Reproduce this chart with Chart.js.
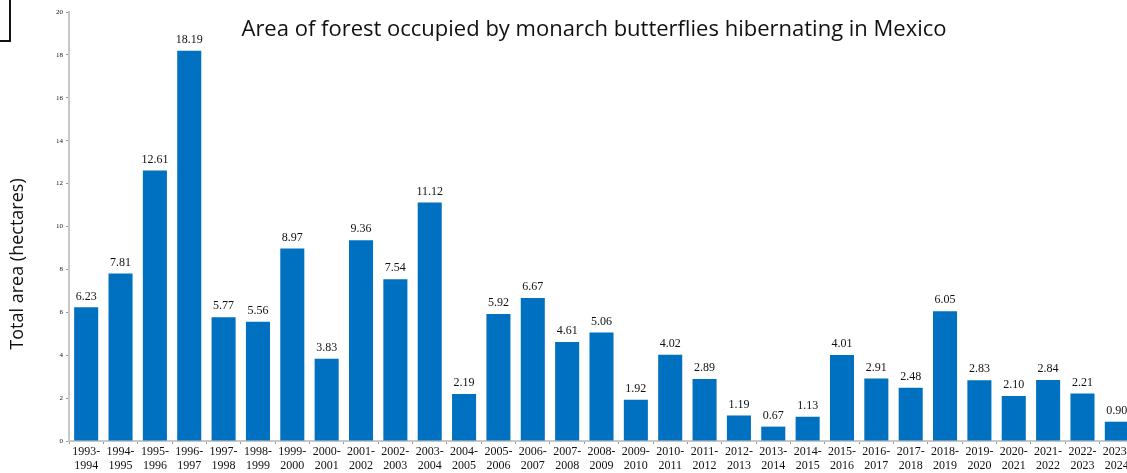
<!DOCTYPE html>
<html>
<head>
<meta charset="utf-8">
<script src="https://cdn.jsdelivr.net/npm/chart.js@4/dist/chart.umd.min.js"></script>
<style>
    html, body { margin: 0; padding: 0; background: #fff; overflow: hidden; }
    body { width: 1127px; height: 473px; position: relative; }
    #wrap { position: absolute; left: 0; top: 0; width: 1134px; height: 473px; }
    #corner { position: absolute; left: -2px; top: -2px; width: 9px; height: 40px; border: 2px solid #111; }
</style>
</head>
<body>
<div id="wrap"><canvas id="chart"></canvas></div>
<div id="corner"></div>
<script>
// Winter seasons
const seasons = [
    '1993-1994', '1994-1995', '1995-1996', '1996-1997', '1997-1998', '1998-1999',
    '1999-2000', '2000-2001', '2001-2002', '2002-2003', '2003-2004', '2004-2005',
    '2005-2006', '2006-2007', '2007-2008', '2008-2009', '2009-2010', '2010-2011',
    '2011-2012', '2012-2013', '2013-2014', '2014-2015', '2015-2016', '2016-2017',
    '2017-2018', '2018-2019', '2019-2020', '2020-2021', '2021-2022', '2022-2023',
    '2023-2024'
];

// Total area in hectares
const hectares = [
    6.23, 7.81, 12.61, 18.19, 5.77, 5.56, 8.97, 3.83, 9.36, 7.54, 11.12, 2.19,
    5.92, 6.67, 4.61, 5.06, 1.92, 4.02, 2.89, 1.19, 0.67, 1.13, 4.01, 2.91,
    2.48, 6.05, 2.83, 2.10, 2.84, 2.21, 0.90
];

const yTicks = [0, 2, 4, 6, 8, 10, 12, 14, 16, 18, 20];

const titleText = 'Area of forest occupied by monarch butterflies hibernating in Mexico';
const yTitleText = 'Total area (hectares)';

// split "1993-1994" into two lines like the original
const xLabels = seasons.map(s => {
    const parts = s.split('-');
    return [parts[0] + '-', parts[1]];
});

const valueLabels = {
    id: 'valueLabels',
    afterDatasetsDraw(chart) {
        const ctx = chart.ctx;
        const meta = chart.getDatasetMeta(0);
        ctx.save();
        ctx.fillStyle = '#111';
        ctx.font = '12px "Liberation Serif", "DejaVu Serif", serif';
        ctx.textAlign = 'center';
        ctx.textBaseline = 'bottom';
        meta.data.forEach((bar, i) => {
            ctx.fillText(hectares[i].toFixed(2), bar.x, bar.y - 5);
        });
        ctx.restore();
    }
};

// chart title and the y title sit where the original has them
const texts = {
    id: 'texts',
    afterDraw(chart) {
        const ctx = chart.ctx;
        ctx.save();
        ctx.fillStyle = '#111';
        ctx.font = '22px "Open Sans", "Noto Sans", sans-serif';
        ctx.textAlign = 'center';
        ctx.textBaseline = 'middle';
        ctx.fillText(titleText, 594, 30);

        ctx.translate(18, 264);
        ctx.rotate(-Math.PI / 2);
        ctx.font = '18px "Open Sans", "Noto Sans", sans-serif';
        ctx.fillText(yTitleText, 0, 0);
        ctx.restore();
    }
};

new Chart(document.getElementById('chart'), {
    type: 'bar',
    data: {
        labels: xLabels,
        datasets: [{
            data: hectares,
            backgroundColor: '#0070c0',
            borderWidth: 0,
            barPercentage: 0.7,
            categoryPercentage: 1.0
        }]
    },
    options: {
        responsive: true,
        maintainAspectRatio: false,
        animation: false,
        layout: { padding: { top: 12, right: 0, bottom: 0, left: 0 } },
        plugins: {
            legend: { display: false },
            tooltip: { enabled: false }
        },
        scales: {
            x: {
                grid: {
                    offset: true,
                    drawOnChartArea: false,
                    tickLength: 3,
                    color: '#999'
                },
                border: { color: '#c8c8c8', width: 2 },
                ticks: {
                    color: '#111',
                    padding: 1,
                    maxRotation: 0,
                    autoSkip: false,
                    font: { family: '"Liberation Serif", "DejaVu Serif", serif', size: 12, lineHeight: 1.17 }
                },
                afterFit(scale) { scale.height = 32; }
            },
            y: {
                min: 0,
                max: 20,
                afterBuildTicks(scale) { scale.ticks = yTicks.map(v => ({ value: v })); },
                grid: {
                    drawOnChartArea: false,
                    tickLength: 3,
                    color: '#999'
                },
                border: { color: '#c8c8c8', width: 2 },
                ticks: {
                    color: '#111',
                    padding: 3,
                    font: { family: '"Liberation Serif", "DejaVu Serif", serif', size: 7 }
                },
                afterFit(scale) { scale.width = 69; }
            }
        }
    },
    plugins: [valueLabels, texts]
});
</script>
</body>
</html>
